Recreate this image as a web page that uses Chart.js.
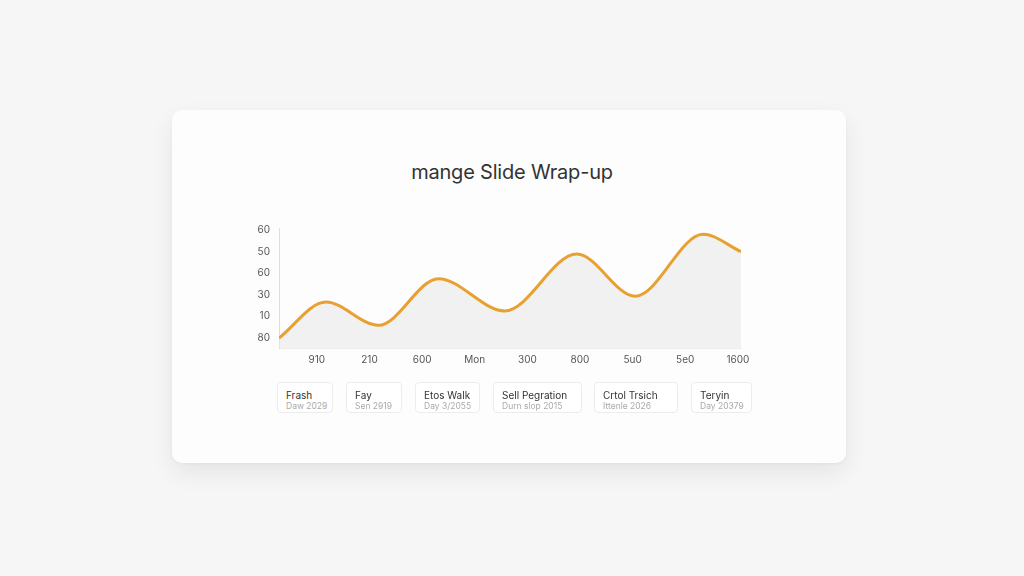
<!DOCTYPE html>
<html>
<head>
<meta charset="utf-8">
<script src="https://cdn.jsdelivr.net/npm/chart.js@4.4.1/dist/chart.umd.min.js"></script>
<style>
  html, body { margin:0; padding:0; width:1024px; height:576px; background:#f6f6f6; overflow:hidden; font-family: Inter, "Open Sans", sans-serif; }
  #card { position:absolute; left:172px; top:110px; width:674px; height:353px; background:#fdfdfd; border-radius:10px;
          box-shadow: 0 10px 24px rgba(0,0,0,0.07), 0 1px 3px rgba(0,0,0,0.04); }
  #title { position:absolute; left:0; top:160px; width:1024px; text-align:center; font-size:20px; color:#333; letter-spacing:-0.2px; }
  #wrap { position:absolute; left:0; top:0; width:1024px; height:576px; }
  .lg { position:absolute; top:382px; height:31px; border:1px solid #ececec; border-radius:4px; background:#fff; box-sizing:border-box; padding-left:8px; }
  .lg .a { position:absolute; top:6px; font-size:10px; color:#333; white-space:nowrap; }
  .lg .b { position:absolute; top:18px; font-size:8.5px; color:#aaa; white-space:nowrap; }
</style>
</head>
<body>
<div id="card"></div>
<div id="title">mange Slide Wrap-up</div>
<div id="wrap"><canvas id="c" width="1024" height="576"></canvas></div>
<div id="legend"></div>
<script>
// Data
const xValues = [0.28, 1.17, 2.17, 3.31, 4.57, 5.94, 7.05, 8.34, 9.06];
const seriesValues = [10, 26.7, 15.9, 37.5, 22.6, 48.9, 29.4, 58.1, 50];
const xTickValues = [1, 2, 3, 4, 5, 6, 7, 8, 9];
const xTickLabels = ["910", "210", "600", "Mon", "300", "800", "5u0", "5e0", "1600"];
const yTickValues = [10, 20, 30, 40, 50, 60];
const yTickLabels = ["80", "10", "30", "60", "50", "60"];
const legendTitles = ["Frash", "Fay", "Etos Walk", "Sell Pegration", "Crtol Trsich", "Teryin"];
const legendSubs = ["Daw 2029", "Sen 2919", "Day 3/2055", "Durn slop 2015", "Ittenle 2026", "Day 20379"];
const legendBoxes = [[277, 56], [346, 56], [415, 65], [493, 89], [594, 84], [691, 61]];

const lg = document.getElementById('legend');
legendTitles.forEach((t, i) => {
  const d = document.createElement('div');
  d.className = 'lg';
  d.style.left = legendBoxes[i][0] + 'px';
  d.style.width = legendBoxes[i][1] + 'px';
  d.innerHTML = '<div class="a">' + t + '</div><div class="b">' + legendSubs[i] + '</div>';
  lg.appendChild(d);
});

const points = xValues.map((x, i) => ({ x: x, y: seriesValues[i] }));

new Chart(document.getElementById('c'), {
  type: 'line',
  data: {
    datasets: [{
      data: points,
      borderColor: '#e8a030',
      borderWidth: 3,
      backgroundColor: 'rgba(232,232,232,0.55)',
      fill: 'start',
      cubicInterpolationMode: 'monotone',
      pointRadius: 0
    }]
  },
  options: {
    responsive: false,
    animation: false,
    layout: { padding: { left: 240, right: 283, top: 228, bottom: 198 } },
    plugins: { legend: { display: false }, tooltip: { enabled: false } },
    scales: {
      x: {
        type: 'linear',
        min: 0.28, max: 9.06,
        afterBuildTicks: s => { s.ticks = xTickValues.map(v => ({ value: v })); },
        afterFit: s => { s.height = 30; },
        grid: { display: false, drawTicks: false },
        border: { display: true, color: '#ececec', width: 1 },
        ticks: {
          padding: 6, color: '#555', font: { size: 10, family: 'Inter' }, maxRotation: 0,
          callback: v => xTickLabels[xTickValues.indexOf(v)]
        }
      },
      y: {
        type: 'linear',
        min: 5.4, max: 61,
        afterBuildTicks: s => { s.ticks = yTickValues.map(v => ({ value: v })); },
        afterFit: s => { s.width = 39; },
        grid: { display: false, drawTicks: false },
        border: { display: true, color: '#dddddd', width: 1 },
        ticks: {
          padding: 9, color: '#555', font: { size: 10, family: 'Inter' },
          callback: v => yTickLabels[yTickValues.indexOf(v)]
        }
      }
    }
  }
});
</script>
</body>
</html>
